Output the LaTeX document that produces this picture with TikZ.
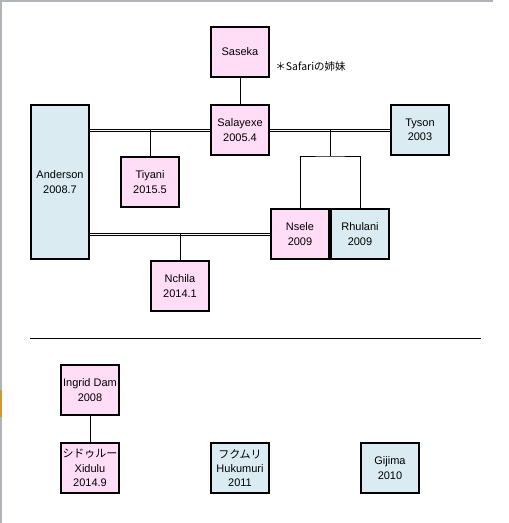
\documentclass[tikz,border=0pt]{standalone}
\usepackage{fontspec}
\setmainfont{Liberation Sans}
\newfontfamily\cjk{Noto Sans CJK JP}
\usetikzlibrary{positioning}

\definecolor{girl}{RGB}{255,221,247}
\definecolor{boy}{RGB}{218,236,242}
\definecolor{edgegray}{RGB}{176,180,186}
\definecolor{edgeorange}{RGB}{214,150,40}

\tikzset{
  cow/.style={draw, line width=2.5pt, minimum width=58pt, minimum height=50pt,
    inner sep=1pt, align=center, font=\fontsize{11}{14.2}\selectfont},
  cowf/.style={cow, fill=girl},
  cowm/.style={cow, fill=boy},
  mateup/.style={line width=0.8pt, transform canvas={yshift=1.1pt}},
  matedn/.style={line width=0.8pt, transform canvas={yshift=-1.1pt}},
  kin/.style={line width=0.9pt}
}

\begin{document}
\begin{tikzpicture}[x=1pt, y=-1pt]
\useasboundingbox (0,0) rectangle (509,523);
\fill[white] (0,0) rectangle (509,523);
\fill[edgegray] (0,0) rectangle (493,1.5);
\fill[edgegray] (0,0) rectangle (2,523);
\fill[edgeorange] (0,390) rectangle (2,417);

\draw (240,52) node[cowf] (sas) {Saseka};
\draw (sas.east) ++ (5,15) node[anchor=west, inner sep=0pt,
  font=\cjk\fontsize{10.5}{12}\selectfont] (note) {＊Safariの姉妹};
%% Salayexe
\draw (sas) ++ (0,78) node[cowf] (sal) {Salayexe\\2005.4};
\path[draw, kin] (sas) -- (sal);
%% Anderson
\draw (60,182) node[cowm, minimum height=154pt] (ande) {Anderson\\2008.7};
\path[draw, mateup] (ande.east |- sal.west) -- (sal.west);
\path[draw, matedn] (ande.east |- sal.west) -- (sal.west);
\draw (150,182) node[cowf] (tiy) {Tiyani\\2015.5};
\path[draw, kin] (tiy.north) -- (tiy.north |- sal.west);
%% Tyson
\draw (sal) ++ (180,0) node[cowm] (tys) {Tyson\\2003};
\path[draw, mateup] (sal.east) -- (tys.west);
\path[draw, matedn] (sal.east) -- (tys.west);
%% Nsele, Rhulani
\draw (300,234) node[cowf] (nse) {Nsele\\2009};
\draw (nse) ++ (60,0) node[cowm] (rhu) {Rhulani\\2009};
\coordinate (mid) at (330,130);
\coordinate (fork) at (330,156);
\path[draw, kin] (mid) -- (fork);
\path[draw, kin] (nse.north) |- (fork) -| (rhu.north);
\path[draw, mateup] (ande.east |- nse.west) -- (nse.west);
\path[draw, matedn] (ande.east |- nse.west) -- (nse.west);
%% Nchila
\draw (180,286) node[cowf] (nch) {Nchila\\2014.1};
\path[draw, kin] (nch.north) -- (nch.north |- nse.west);

%%%%%%%%%%%%%%%%%%%%%% others

\coordinate (sepl) at (30,338);
\coordinate (sepr) at (481,338);
\path[draw, kin] (sepl) -- (sepr);
\draw (90,390) node[cowf] (ing) {Ingrid Dam\\2008};
\draw (ing) ++ (0,78) node[cowf] (xid) {{\cjk シドゥルー}\\Xidulu\\2014.9};
\path[draw, kin] (ing) -- (xid);
\draw (xid) ++ (150,0) node[cowm] (huk) {{\cjk フクムリ}\\Hukumuri\\2011};
\draw (huk) ++ (150,0) node[cowm] (gij) {Gijima\\2010};
\end{tikzpicture}
\end{document}
